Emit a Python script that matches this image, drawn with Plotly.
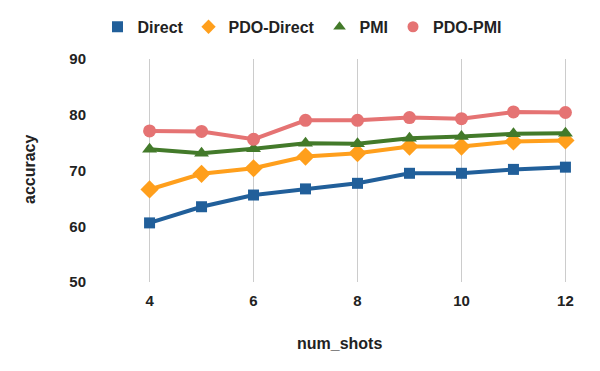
import plotly.graph_objects as go

num_shots = [4, 5, 6, 7, 8, 9, 10, 11, 12]
direct = [60.6, 63.5, 65.6, 66.7, 67.7, 69.5, 69.5, 70.2, 70.6]
pdo_direct = [66.6, 69.4, 70.4, 72.5, 73.1, 74.3, 74.3, 75.2, 75.4]
pmi = [73.8, 73.1, 73.9, 74.9, 74.8, 75.8, 76.1, 76.6, 76.7]
pdo_pmi = [77.1, 77.0, 75.6, 79.0, 79.0, 79.5, 79.3, 80.5, 80.4]

series = [
    ("Direct", direct, "#215f9a", "square", 11),
    ("PDO-Direct", pdo_direct, "#ff9f1c", "diamond", 14),
    ("PMI", pmi, "#437a2a", "triangle-up", 13),
    ("PDO-PMI", pdo_pmi, "#e57373", "circle", 13),
]

fig = go.Figure()
for name, vals, color, symbol, size in series:
    fig.add_trace(go.Scatter(
        x=num_shots,
        y=vals,
        mode="lines+markers",
        name=name,
        line=dict(color=color, width=4),
        marker=dict(color=color, symbol=symbol, size=size),
        cliponaxis=False,
        showlegend=False,
    ))
    # legend entry shows only the marker, like the original
    fig.add_trace(go.Scatter(
        x=[None], y=[None],
        mode="markers",
        name=name,
        marker=dict(color=color, symbol=symbol, size=11),
    ))

txt = dict(family="Liberation Sans, Arial, sans-serif", color="#222222", weight="bold")

# the page body adds an 8px offset, so margins are shifted by that much
fig.update_layout(
    width=600,
    height=371,
    margin=dict(l=140, r=41, t=51, b=97, autoexpand=False),
    paper_bgcolor="white",
    plot_bgcolor="white",
    font=dict(family="Liberation Sans, Arial, sans-serif", size=14, color="#222222"),
    legend=dict(
        orientation="h",
        x=0.49, xanchor="center", xref="container",
        y=0.995, yanchor="top", yref="container",
        font=dict(size=16, **txt),
        itemwidth=30,
        traceorder="normal",
    ),
    xaxis=dict(
        range=[3.97, 12.03],
        tickvals=[4, 6, 8, 10, 12],
        showgrid=True,
        gridcolor="#cccccc",
        gridwidth=1,
        zeroline=False,
        showline=False,
        ticks="",
        ticklabelstandoff=8,
        tickfont=dict(size=15, **txt),
    ),
    yaxis=dict(
        range=[50, 90],
        dtick=10,
        showgrid=False,
        zeroline=False,
        showline=False,
        ticks="",
        ticklabelstandoff=61,
        tickfont=dict(size=15, **txt),
    ),
    annotations=[
        dict(text="num_shots", x=331, y=335, xref="paper", yref="paper",
             xanchor="center", yanchor="middle",
             showarrow=False, font=dict(size=16, **txt)),
        dict(text="accuracy", x=21, y=162, xref="paper", yref="paper",
             xanchor="center", yanchor="middle",
             showarrow=False, textangle=-90, font=dict(size=16, **txt)),
    ],
)

# convert pixel positions of axis titles into paper coordinates
pl, pt, pw, ph = 140, 51, 600 - 140 - 41, 371 - 51 - 97
for ann in fig.layout.annotations:
    ann.x = (ann.x - pl) / pw
    ann.y = 1 - (ann.y - pt) / ph

fig.write_html("out.html")
